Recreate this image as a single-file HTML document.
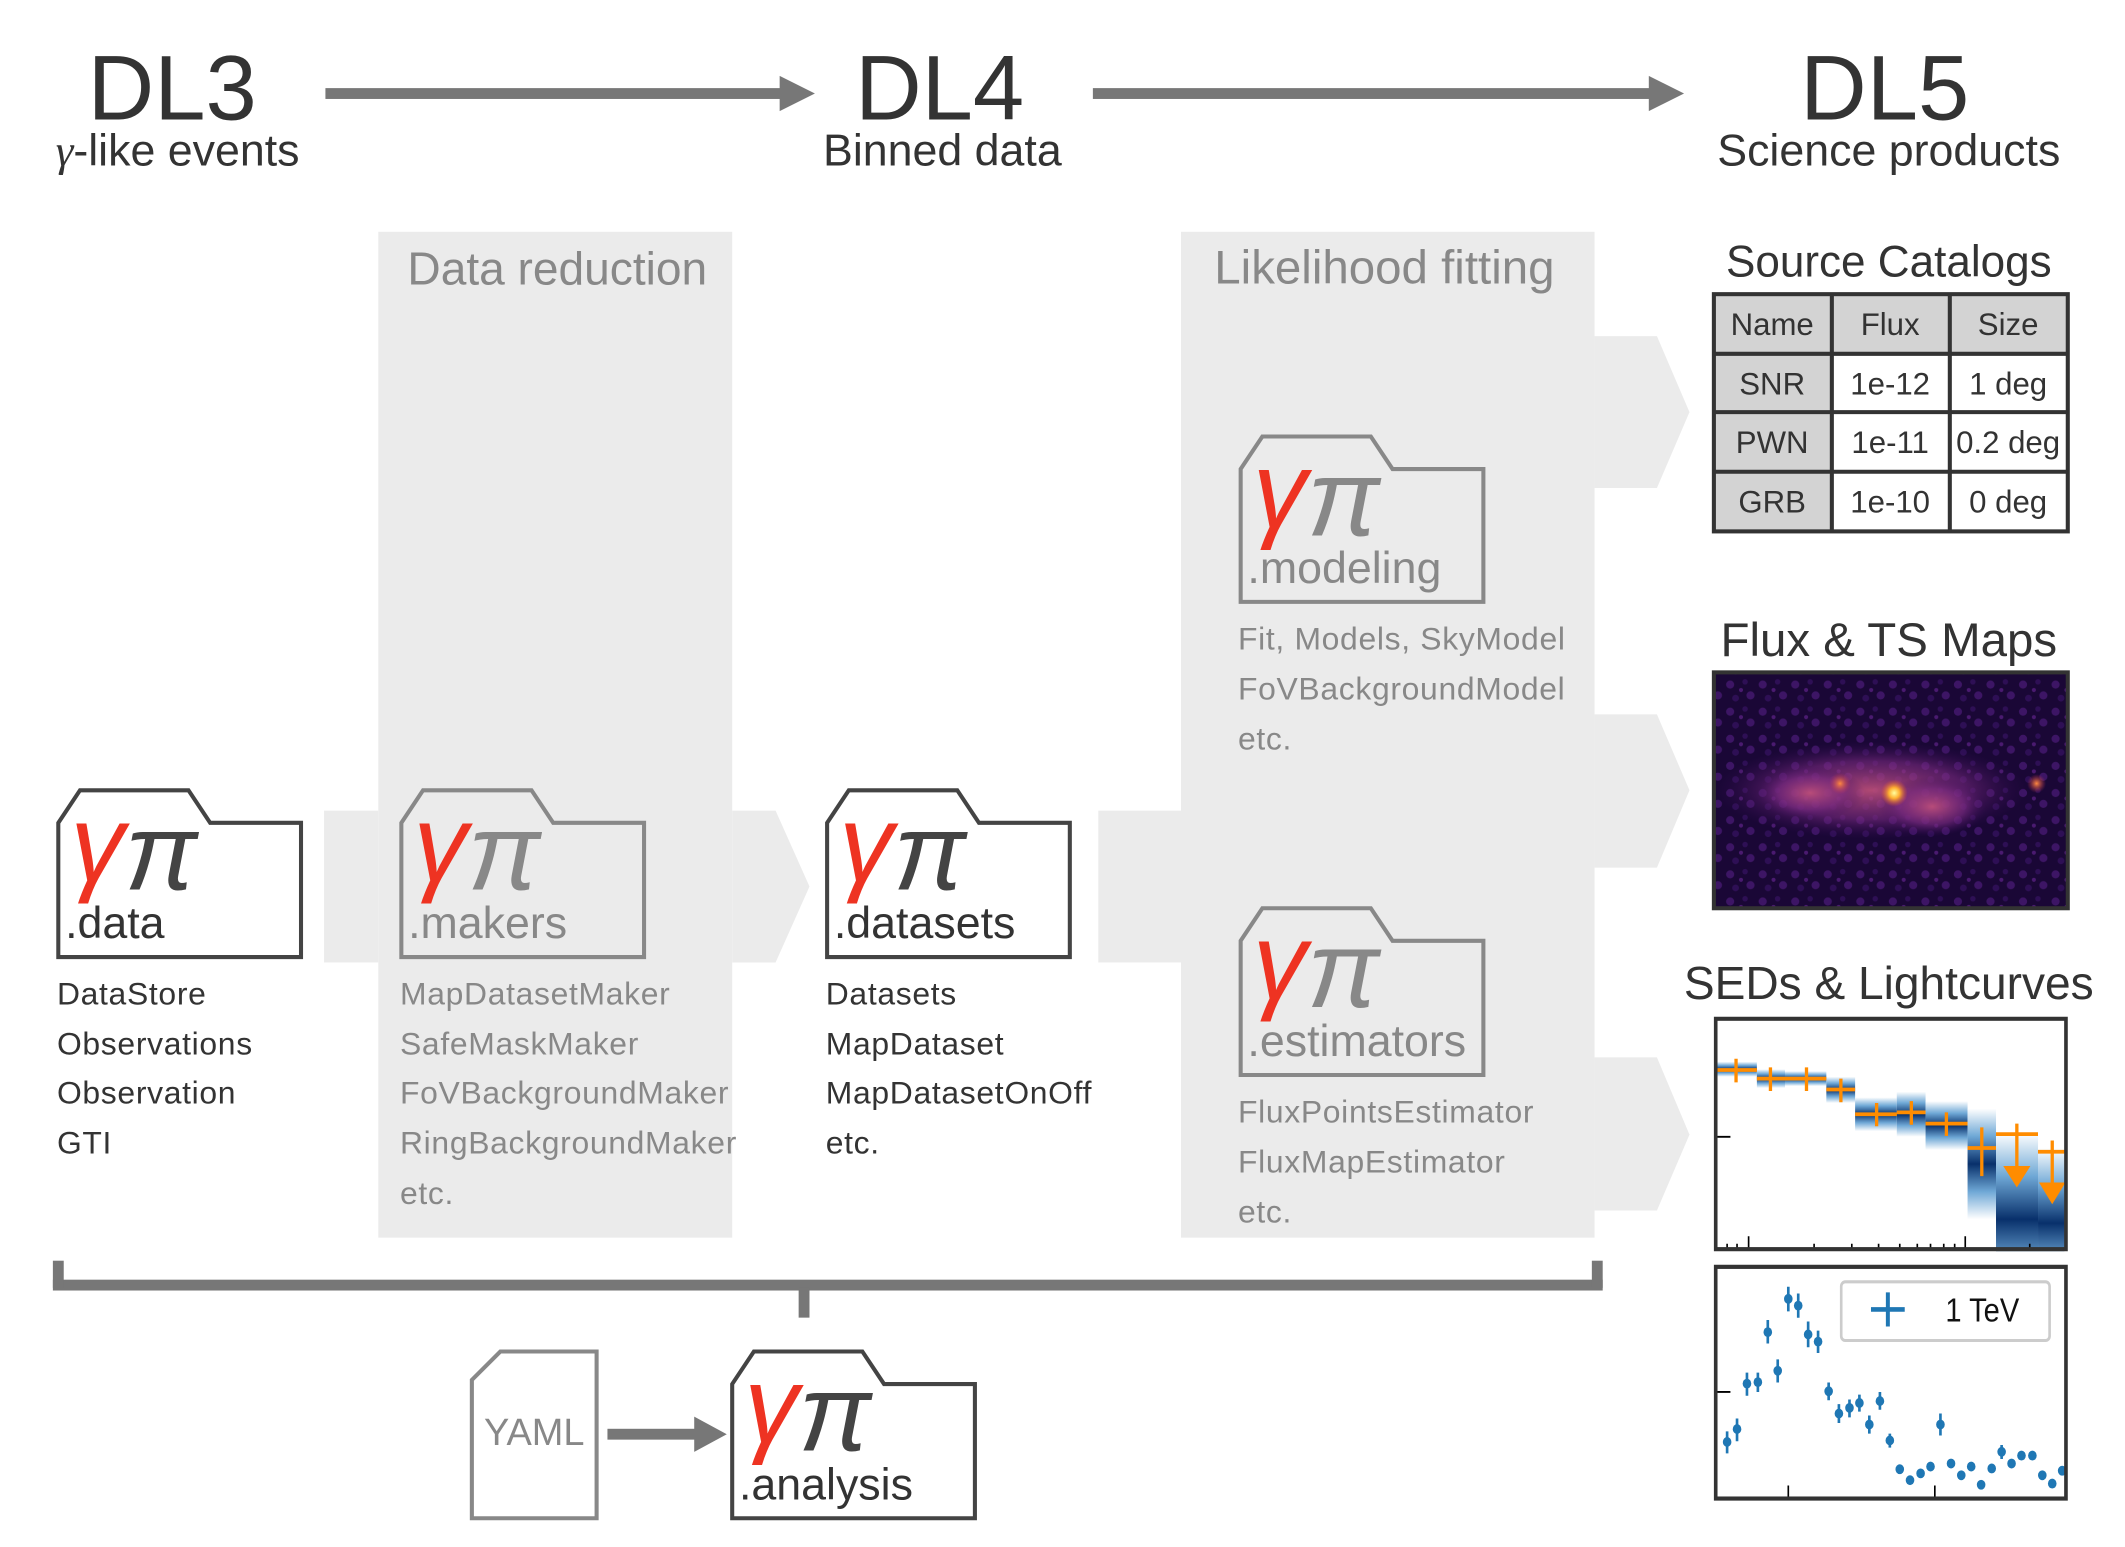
<!DOCTYPE html>
<html><head><meta charset="utf-8"><style>
html,body{margin:0;padding:0;background:#fff;}
svg{display:block;}
text{font-family:"Liberation Sans","DejaVu Sans",sans-serif;}
</style></head><body>
<svg width="2125" height="1547" viewBox="0 0 1567.2 1141.2" preserveAspectRatio="none" xmlns="http://www.w3.org/2000/svg">
<defs>
<linearGradient id="bg" x1="0" y1="0" x2="0" y2="1">
<stop offset="0" stop-color="#fff"/><stop offset="0.25" stop-color="#6fa8d6"/><stop offset="0.5" stop-color="#08306b"/><stop offset="0.75" stop-color="#6fa8d6"/><stop offset="1" stop-color="#fff"/>
</linearGradient>
<radialGradient id="glow"><stop offset="0" stop-color="#c0507a" stop-opacity="0.9"/><stop offset="0.6" stop-color="#7a2a80" stop-opacity="0.6"/><stop offset="1" stop-color="#3a0d5a" stop-opacity="0"/></radialGradient>
<radialGradient id="hot"><stop offset="0" stop-color="#ffffa0"/><stop offset="0.4" stop-color="#ffb030"/><stop offset="1" stop-color="#e05030" stop-opacity="0"/></radialGradient>
<radialGradient id="warm"><stop offset="0" stop-color="#ff8a40"/><stop offset="1" stop-color="#c03050" stop-opacity="0"/></radialGradient>
<pattern id="noise" width="24" height="20" patternUnits="userSpaceOnUse">
<rect width="24" height="20" fill="#1a0736"/>
<circle cx="4" cy="5" r="3" fill="#3d1565"/><circle cx="15" cy="3" r="2" fill="#2e0f55"/><circle cx="19" cy="13" r="3" fill="#3d1565"/><circle cx="8" cy="15" r="2.5" fill="#2e0f55"/><circle cx="12" cy="9" r="1.5" fill="#4a1a70"/>
</pattern>
</defs>

<!-- headers -->
<g fill="#333" text-anchor="middle">
<text x="127" y="88" font-size="68">DL3</text>
<text x="131" y="122" font-size="33"><tspan font-style="italic" font-family="Liberation Serif">γ</tspan>-like events</text>
<text x="693" y="88" font-size="68">DL4</text>
<text x="695" y="122" font-size="33">Binned data</text>
<text x="1390" y="88" font-size="68">DL5</text>
<text x="1393" y="122" font-size="33">Science products</text>
</g>
<g fill="#777" stroke="none">
<rect x="240" y="65" width="338" height="8"/><polygon points="575,56 601,69 575,82"/>
<rect x="806" y="65" width="414" height="8"/><polygon points="1216,56 1242,69 1216,82"/>
</g>

<!-- grey panels -->
<g fill="#ebebeb">
<rect x="279" y="171" width="261" height="742"/>
<rect x="871" y="171" width="305" height="742"/>
<rect x="239" y="598" width="40" height="112"/>
<polygon points="540,598 572,598 597,654 572,710 540,710"/>
<rect x="810" y="598" width="61" height="112"/>
<polygon points="1176,248 1222,248 1246,304 1222,360 1176,360"/>
<polygon points="1176,527 1222,527 1246,583 1222,640 1176,640"/>
<polygon points="1176,780 1222,780 1246,837 1222,893 1176,893"/>
</g>
<text x="411" y="210" font-size="34" fill="#888" text-anchor="middle">Data reduction</text>
<text x="1021" y="209" font-size="35" fill="#888" text-anchor="middle">Likelihood fitting</text>

<!-- folders -->
<g stroke-width="3" fill="#fff">
<path d="M43,706 V607 L59,583 H139 L155,607 H222 V706 Z" stroke="#444"/>
<path d="M296,706 V607 L312,583 H392 L408,607 H475 V706 Z" stroke="#888" fill="none"/>
<path d="M610,706 V607 L626,583 H706 L722,607 H789 V706 Z" stroke="#444"/>
<path d="M915,444 V346 L931,322 H1011 L1027,346 H1094 V444 Z" stroke="#888" fill="none"/>
<path d="M915,793 V694 L931,670 H1011 L1027,694 H1094 V793 Z" stroke="#888" fill="none"/>
<path d="M540,1120 V1021 L556,997 H636 L652,1021 H719 V1120 Z" stroke="#444"/>
<path d="M348,1120 V1018 L369,997 H440 V1120 Z" stroke="#888" fill="#fff"/>
</g>
<g font-family="Liberation Serif" font-style="italic" font-size="80">
<text x="52" y="650" fill="#ee3322">γ</text><text x="92" y="656" fill="#444">π</text>
<text x="305" y="650" fill="#ee3322">γ</text><text x="345" y="656" fill="#888">π</text>
<text x="619" y="650" fill="#ee3322">γ</text><text x="659" y="656" fill="#444">π</text>
<text x="924" y="389" fill="#ee3322">γ</text><text x="964" y="395" fill="#888">π</text>
<text x="924" y="737" fill="#ee3322">γ</text><text x="964" y="743" fill="#888">π</text>
<text x="549" y="1064" fill="#ee3322">γ</text><text x="589" y="1070" fill="#444">π</text>
</g>
<g font-size="33">
<text x="48" y="692" fill="#333">.data</text>
<text x="301" y="692" fill="#888">.makers</text>
<text x="615" y="692" fill="#333">.datasets</text>
<text x="920" y="430" fill="#888">.modeling</text>
<text x="920" y="779" fill="#888">.estimators</text>
<text x="545" y="1106" fill="#333">.analysis</text>
<text x="394" y="1066" fill="#888" font-size="28" text-anchor="middle">YAML</text>
</g>

<!-- lists -->
<g font-size="23.5" letter-spacing="0.5">
<g fill="#333"><text x="42" y="741">DataStore</text><text x="42" y="778">Observations</text><text x="42" y="814">Observation</text><text x="42" y="851">GTI</text></g>
<g fill="#888"><text x="295" y="741">MapDatasetMaker</text><text x="295" y="778">SafeMaskMaker</text><text x="295" y="814">FoVBackgroundMaker</text><text x="295" y="851">RingBackgroundMaker</text><text x="295" y="888">etc.</text></g>
<g fill="#333"><text x="609" y="741">Datasets</text><text x="609" y="778">MapDataset</text><text x="609" y="814">MapDatasetOnOff</text><text x="609" y="851">etc.</text></g>
<g fill="#888"><text x="913" y="479">Fit, Models, SkyModel</text><text x="913" y="516">FoVBackgroundModel</text><text x="913" y="553">etc.</text></g>
<g fill="#888"><text x="913" y="828">FluxPointsEstimator</text><text x="913" y="865">FluxMapEstimator</text><text x="913" y="902">etc.</text></g>
</g>

<!-- bracket -->
<g fill="#777">
<rect x="39" y="944" width="1143" height="8"/>
<rect x="39" y="930" width="8" height="20"/>
<rect x="1174" y="930" width="8" height="20"/>
<rect x="589" y="950" width="8" height="22"/>
<rect x="448" y="1054" width="67" height="8"/><polygon points="512,1045 536,1058 512,1071"/>
</g>

<!-- table -->
<text x="1393" y="204" font-size="32.5" fill="#333" text-anchor="middle">Source Catalogs</text>
<g>
<rect x="1264" y="217" width="261" height="175" fill="#fff"/>
<rect x="1264" y="217" width="261" height="44" fill="#d3d3d3"/>
<rect x="1264" y="217" width="87" height="175" fill="#d3d3d3"/>
<g stroke="#333" stroke-width="3" fill="none">
<rect x="1264" y="217" width="261" height="175"/>
<line x1="1264" y1="261" x2="1525" y2="261"/><line x1="1264" y1="304" x2="1525" y2="304"/><line x1="1264" y1="348" x2="1525" y2="348"/>
<line x1="1351" y1="217" x2="1351" y2="392"/><line x1="1438" y1="217" x2="1438" y2="392"/>
</g>
<g font-size="23" fill="#333" text-anchor="middle">
<text x="1307" y="247">Name</text><text x="1394" y="247">Flux</text><text x="1481" y="247">Size</text>
<text x="1307" y="291">SNR</text><text x="1394" y="291">1e-12</text><text x="1481" y="291">1 deg</text>
<text x="1307" y="334">PWN</text><text x="1394" y="334">1e-11</text><text x="1481" y="334">0.2 deg</text>
<text x="1307" y="378">GRB</text><text x="1394" y="378">1e-10</text><text x="1481" y="378">0 deg</text>
</g>
</g>

<!-- map -->
<text x="1393" y="484" font-size="35" fill="#333" text-anchor="middle">Flux &amp; TS Maps</text>
<rect x="1264" y="496" width="261" height="174" fill="url(#noise)" stroke="#333" stroke-width="3"/>
<g>
<ellipse cx="1380" cy="583" rx="115" ry="36" fill="url(#glow)"/>
<ellipse cx="1425" cy="595" rx="40" ry="22" fill="url(#glow)"/>
<ellipse cx="1335" cy="585" rx="40" ry="20" fill="url(#glow)"/>
<circle cx="1357" cy="578" r="8" fill="url(#warm)"/>
<circle cx="1397" cy="585" r="10" fill="url(#hot)"/>
<circle cx="1502" cy="578" r="7" fill="url(#warm)"/>
</g>

<!-- SED -->
<text x="1393" y="737" font-size="34" fill="#333" text-anchor="middle">SEDs &amp; Lightcurves</text>
<svg x="1264" y="750" width="261" height="173" viewBox="35 170 1070 625" preserveAspectRatio="none">
<rect x="35" y="170" width="1070" height="625" fill="#fff"/>
<g fill="url(#bg)">
<rect x="45" y="290" width="120" height="40"/>
<rect x="165" y="310" width="85" height="50"/>
<rect x="250" y="315" width="125" height="40"/>
<rect x="375" y="330" width="87" height="70"/>
<rect x="462" y="385" width="126" height="90"/>
<rect x="588" y="370" width="87" height="120"/>
<rect x="675" y="395" width="127" height="130"/>
<rect x="802" y="415" width="86" height="295"/>
<rect x="888" y="480" width="127" height="460"/>
<rect x="1015" y="520" width="80" height="400"/>
</g>
<g stroke="#ff8c00" stroke-width="10" fill="none">
<path d="M45,312H165M102,282V345M165,335H250M206,305V368M250,335H375M315,305V368M375,364H462M419,335V398M462,430H588M527,400V462M588,425H675M632,395V458M675,455H802M738,425V488M802,520H888M845,465V595M888,483H1015M951,455V580M1015,530H1095M1058,500V620"/>
</g>
<g fill="#ff8c00"><polygon points="910,568 992,568 951,625"/><polygon points="1018,612 1098,612 1058,670"/></g>
<g stroke="#000" stroke-width="5"><path d="M45,490H85M140,755V790M75,775V790M105,775V790M338,775V790M452,775V790M533,775V790M597,775V790M650,775V790M690,775V790M730,775V790M763,775V790M795,755V790M990,775V790"/></g>
<rect x="40" y="175" width="1060" height="615" fill="none" stroke="#333" stroke-width="12"/>
</svg>

<!-- lightcurve -->
<svg x="1264" y="933" width="261" height="174" viewBox="35 822 1070 623" preserveAspectRatio="none">
<rect x="35" y="822" width="1070" height="623" fill="#fff"/>
<rect x="420" y="867" width="630" height="155" rx="12" fill="#fff" stroke="#ccc" stroke-width="8"/>
<path d="M510,940H612M561,895V985" stroke="#1f77b4" stroke-width="12"/>
<text x="735" y="972" font-size="88" fill="#111">1  TeV</text>
<g fill="#1f77b4" stroke="#1f77b4" stroke-width="8">
<path d="M75,1262V1320M105,1228V1288M135,1107V1168M168,1107V1158M198,968V1030M228,1072V1133M260,880V945M290,898V962M320,972V1040M350,996V1055M382,1133V1180M413,1190V1240M445,1178V1225M475,1165V1210M505,1220V1268M537,1158V1205M567,1268V1305M720,1215V1273M905,1298V1335"/>
<g stroke="none">
<circle cx="75" cy="1290" r="13"/><circle cx="105" cy="1256" r="13"/><circle cx="135" cy="1136" r="13"/><circle cx="168" cy="1132" r="13"/><circle cx="198" cy="1000" r="13"/><circle cx="228" cy="1102" r="13"/><circle cx="260" cy="912" r="13"/><circle cx="290" cy="930" r="13"/><circle cx="320" cy="1006" r="13"/><circle cx="350" cy="1025" r="13"/><circle cx="382" cy="1156" r="13"/><circle cx="413" cy="1215" r="13"/><circle cx="445" cy="1200" r="13"/><circle cx="475" cy="1187" r="13"/><circle cx="505" cy="1244" r="13"/><circle cx="537" cy="1182" r="13"/><circle cx="567" cy="1286" r="13"/><circle cx="597" cy="1362" r="13"/><circle cx="628" cy="1391" r="13"/><circle cx="660" cy="1373" r="13"/><circle cx="690" cy="1355" r="13"/><circle cx="720" cy="1244" r="13"/><circle cx="752" cy="1347" r="13"/><circle cx="783" cy="1378" r="13"/><circle cx="813" cy="1355" r="13"/><circle cx="843" cy="1403" r="13"/><circle cx="875" cy="1360" r="13"/><circle cx="905" cy="1316" r="13"/><circle cx="935" cy="1347" r="13"/><circle cx="965" cy="1326" r="13"/><circle cx="998" cy="1326" r="13"/><circle cx="1028" cy="1378" r="13"/><circle cx="1058" cy="1400" r="13"/><circle cx="1088" cy="1366" r="13"/>
</g>
</g>
<g stroke="#000" stroke-width="5"><path d="M45,1158H85M260,1405V1440M703,1405V1440"/></g>
<rect x="40" y="827" width="1060" height="613" fill="none" stroke="#333" stroke-width="12"/>
</svg>
</svg>
</body></html>
